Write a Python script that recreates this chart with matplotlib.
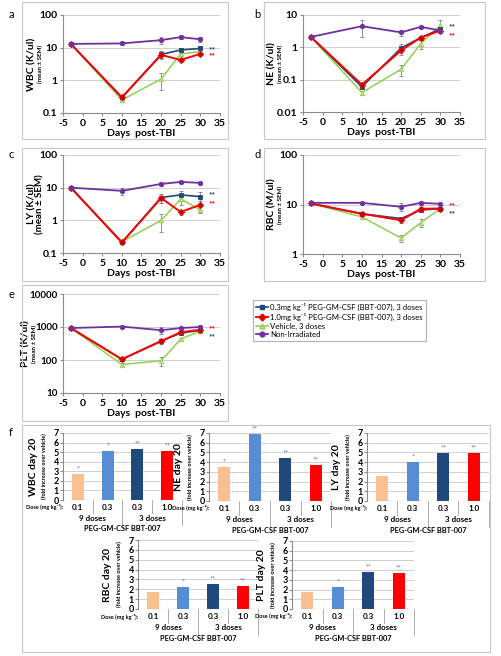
import numpy as np
import matplotlib
matplotlib.use("Agg")
import matplotlib.pyplot as plt
from matplotlib.lines import Line2D
from matplotlib.patches import Rectangle

plt.rcParams["font.family"] = ["Lato", "DejaVu Sans"]

W, H = 502, 656
fig = plt.figure(figsize=(W / 100, H / 100), dpi=100)

# ---- data: time courses (days post-TBI) ----
days = [-3, 10, 20, 25, 30]

wbc = {"low": [13, 0.3, 6.2, 8.5, 9.5], "high": [13, 0.3, 6.0, 4.2, 6.5],
       "veh": [13, 0.25, 1.1, 6.5, 7.5], "non": [13, 13.5, 17, 21, 18]}
wbc_err = {"low": [0, 0.05, 1.5, 1.5, 1.5], "high": [0, 0.05, 1.5, 0.5, 1.0],
           "veh": [0, 0.04, 0.6, 1.0, 1.0], "non": [0, 1.0, 4.0, 3.0, 3.0]}
ne = {"low": [2.1, 0.06, 0.95, 2.0, 3.7], "high": [2.1, 0.07, 0.8, 2.0, 3.3],
      "veh": [2.1, 0.04, 0.21, 1.3, 4.8], "non": [2.1, 4.5, 2.9, 4.3, 3.3]}
ne_err = {"low": [0, 0.01, 0.3, 0.3, 0.5], "high": [0, 0.01, 0.2, 0.3, 0.5],
          "veh": [0, 0.006, 0.08, 0.4, 2.0], "non": [0, 2.4, 0.6, 0.4, 0.5]}
ly = {"low": [10, 0.21, 5.0, 6.0, 5.3], "high": [10, 0.21, 4.8, 1.8, 3.0],
      "veh": [10, 0.22, 1.0, 4.5, 2.1], "non": [10, 8, 13, 15, 14]}
ly_err = {"low": [0, 0.02, 1.5, 2.0, 2.0], "high": [0, 0.02, 1.5, 0.3, 1.0],
          "veh": [0, 0.02, 0.55, 1.5, 0.4], "non": [0, 2.0, 1.5, 1.0, 1.0]}
rbc = {"low": [10.5, 6.5, 5.2, 7.7, 8.3], "high": [10.5, 6.5, 4.8, 8.2, 8.3],
       "veh": [10.5, 5.6, 2.1, 4.3, 8.3], "non": [10.8, 10.8, 9.0, 10.8, 10.3]}
rbc_err = {"low": [0, 0.5, 0.5, 0.5, 0.3], "high": [0, 0.5, 0.6, 0.5, 0.3],
           "veh": [0, 0.4, 0.35, 0.8, 0.5], "non": [0, 0.3, 1.5, 0.5, 0.5]}
plt_ = {"low": [930, 105, 380, 650, 800], "high": [930, 105, 370, 700, 820],
        "veh": [930, 73, 95, 430, 760], "non": [930, 1030, 800, 930, 1000]}
plt_err = {"low": [0, 10, 50, 80, 80], "high": [0, 10, 60, 80, 80],
           "veh": [0, 8, 30, 50, 80], "non": [0, 80, 200, 100, 120]}

# ---- data: day-20 fold increase over vehicle ----
doses = ["0.1", "0.3", "0.3", "1.0"]
wbc_fold = [2.75, 5.15, 5.3, 5.15]
ne_fold = [3.55, 6.85, 4.4, 3.7]
ly_fold = [2.6, 4.0, 4.9, 4.9]
rbc_fold = [1.7, 2.2, 2.5, 2.35]
plt_fold = [1.7, 2.3, 3.8, 3.75]
wbc_sig = ["*", "*", "**", "**"]
ne_sig = ["*", "**", "**", "**"]
ly_sig = ["", "*", "**", "**"]
rbc_sig = ["", "*", "**", "**"]
plt_sig = ["", "*", "**", "**"]

labels = {"low": "0.3mg kg\u207b\u00b9 PEG-GM-CSF (BBT-007), 3 doses",
          "high": "1.0mg kg\u207b\u00b9 PEG-GM-CSF (BBT-007), 3 doses",
          "veh": "Vehicle, 3 doses", "non": "Non-Irradiated"}
style = {"low": dict(color="#1F497D", marker="s", mfc="#1F497D", lw=1.2),
         "high": dict(color="#FF0000", marker="D", mfc="#C00000", lw=1.4),
         "veh": dict(color="#92D050", marker="^", mfc="#C3E39A", lw=1.1),
         "non": dict(color="#7030A0", marker="o", mfc="#7030A0", lw=1.3)}
bar_colors = ["#FAC090", "#558ED5", "#1F497D", "#FF0000"]
GRID = "#D0D0D0"
BOX = "#C8C8C8"


def px_axes(x0, y0, x1, y1):
    return fig.add_axes([x0 / W, 1 - y1 / H, (x1 - x0) / W, (y1 - y0) / H])


def px_box(x0, y0, x1, y1):
    fig.patches.append(Rectangle((x0 / W, 1 - y1 / H), (x1 - x0) / W, (y1 - y0) / H,
                                 transform=fig.transFigure, fill=False, ec=BOX, lw=0.8))


def px_text(x, y, s, **kw):
    fig.text(x / W, 1 - y / H, s, **kw)


def line_panel(rect, data, err, ylim, yticks, ylab, stars, lab_x=(-0.2, -0.145), ytick_fs=7.5):
    ax = px_axes(*rect)
    for k in ["veh", "low", "high", "non"]:
        st = style[k]
        ax.errorbar(days, data[k], yerr=err[k], color=st["color"], lw=st["lw"],
                    marker=st["marker"], ms=3.2, mfc=st["mfc"], mec=st["color"],
                    mew=0.6, ecolor="#808080", elinewidth=0.6, capsize=1.5, zorder=3)
    ax.set_yscale("log")
    ax.set_ylim(*ylim)
    ax.set_xlim(-5, 35)
    ax.set_yticks(yticks)
    ax.set_yticklabels([("%g" % t) for t in yticks], fontsize=ytick_fs, fontweight="bold")
    ax.yaxis.set_minor_locator(matplotlib.ticker.NullLocator())
    ax.set_xticks(range(-5, 40, 5))
    ax.set_xticklabels([str(t) for t in range(-5, 40, 5)], fontsize=7.5, fontweight="bold")
    ax.grid(axis="y", color=GRID, lw=0.7)
    for s in ["top", "right"]:
        ax.spines[s].set_visible(False)
    for s in ["left", "bottom"]:
        ax.spines[s].set_color("#8C8C8C")
    ax.tick_params(length=2, color="#8C8C8C", pad=2)
    ax.set_xlabel("Days  post-TBI", fontsize=7.5, fontweight="bold", labelpad=1)
    ax.text(lab_x[0], 0.5, ylab[0], transform=ax.transAxes, rotation=90, ha="center",
            va="center", fontsize=7.5, fontweight="bold")
    ax.text(lab_x[1], 0.5, ylab[1], transform=ax.transAxes, rotation=90, ha="center",
            va="center", fontsize=ylab[2], fontweight="bold")
    for (k, y) in stars:
        ax.text(33, y, "**", color=style[k]["color"], fontsize=6, fontweight="bold",
                ha="center", va="center")
    return ax


line_panel((63, 15, 220, 113), wbc, wbc_err, (0.1, 100), [0.1, 1, 10, 100],
           ("WBC (K/ul)", "(mean \u00b1 SEM)", 4.5), [("low", 9.0), ("high", 5.6)])
line_panel((303, 15, 460, 112), ne, ne_err, (0.01, 10), [0.01, 0.1, 1, 10],
           ("NE (K/ul)", "(mean \u00b1 SEM)", 4.5), [("low", 4.3), ("high", 2.3)])
line_panel((63, 155, 220, 253), ly, ly_err, (0.1, 100), [0.1, 1, 10, 100],
           ("LY (K/ul)", "(mean \u00b1 SEM)", 7), [("low", 6.0), ("high", 3.2)])
line_panel((303, 155, 460, 254), rbc, rbc_err, (1, 100), [1, 10, 100],
           ("RBC (M/ul)", "(mean \u00b1 SEM)", 4.5), [("high", 9.6), ("low", 6.4)])
line_panel((63, 294, 220, 393), plt_, plt_err, (10, 10000), [10, 100, 1000, 10000],
           ("PLT (K/ul)", "(mean \u00b1 SEM)", 4.5), [("high", 880), ("low", 500)],
           lab_x=(-0.235, -0.18), ytick_fs=7)

# panel boxes and letters
px_box(22, 2, 228, 139)
px_box(264, 2, 485, 139)
px_box(22, 148, 228, 281)
px_box(264, 148, 485, 281)
px_box(22, 285, 228, 421)
px_box(22, 425, 490, 652)
for x, y, s in [(11, 15, "a"), (257, 15, "b"), (11, 155, "c"), (258, 155, "d"),
                (11, 295, "e"), (11, 432, "f")]:
    px_text(x, y, s, fontsize=8, ha="center", va="center")

# legend
handles = [Line2D([], [], color=style[k]["color"], lw=style[k]["lw"], marker=style[k]["marker"],
                  ms=3.5, mfc=style[k]["mfc"], mec=style[k]["color"]) for k in ["low", "high", "veh", "non"]]
leg = fig.legend(handles, [labels[k] for k in ["low", "high", "veh", "non"]],
                 loc="upper left", bbox_to_anchor=(253 / W, 1 - 300 / H), fontsize=5.6,
                 frameon=True, fancybox=False, edgecolor="#A0A0A0", handlelength=1.5,
                 handletextpad=0.3, borderpad=0.4, labelspacing=0.2, borderaxespad=0)
leg.get_frame().set_linewidth(0.8)


def bar_panel(rect, vals, sig, name):
    ax = px_axes(*rect)
    x = np.arange(len(vals))
    ax.bar(x, vals, width=0.4, color=bar_colors, zorder=3)
    for xi, v, s in zip(x, vals, sig):
        ax.text(xi, v + 0.15, s, color="#4F6FA0", fontsize=5, ha="center", va="bottom")
    ax.set_xlim(-0.5, 3.5)
    ax.set_ylim(0, 7)
    ax.set_yticks(range(8))
    ax.set_yticklabels([str(i) for i in range(8)], fontsize=6.5, fontweight="bold")
    ax.set_xticks([])
    ax.grid(axis="y", color=GRID, lw=0.7)
    for s in ["top", "right", "bottom"]:
        ax.spines[s].set_visible(False)
    ax.spines["left"].set_color("#8C8C8C")
    ax.tick_params(axis="y", length=2, color="#8C8C8C", pad=1)
    ax.axhline(0, color="#8C8C8C", lw=0.8, zorder=4)
    tr = ax.get_xaxis_transform()
    for xi, d in zip(x, doses):
        ax.text(xi, -0.11, d, transform=tr, fontsize=5.8, fontweight="bold",
                ha="center", va="center")
    ax.text(-0.48, -0.11, "Dose (mg kg\u207b\u00b9):", transform=tr, fontsize=4.0,
            fontweight="bold", ha="right", va="center")
    for xs, y1 in [(0.5, -0.2), (1.5, -0.38), (2.5, -0.2), (3.5, -0.38)]:
        ax.plot([xs, xs], [0, y1], transform=tr, color="#A0A0A0", lw=0.6, clip_on=False)
    ax.text(0.5, -0.27, "9 doses", transform=tr, fontsize=5.8, fontweight="bold",
            ha="center", va="center")
    ax.text(2.5, -0.27, "3 doses", transform=tr, fontsize=5.8, fontweight="bold",
            ha="center", va="center")
    ax.text(1.5, -0.43, "PEG-GM-CSF BBT-007", transform=tr, fontsize=5.3,
            fontweight="bold", ha="center", va="center")
    ax.text(-0.25, 0.5, name, transform=ax.transAxes, rotation=90, ha="center",
            va="center", fontsize=7.5, fontweight="bold")
    ax.text(-0.155, 0.5, "(fold increase over vehicle)", transform=ax.transAxes,
            rotation=90, ha="center", va="center", fontsize=4, fontweight="bold")
    return ax


bar_panel((63, 433, 182, 500), wbc_fold, wbc_sig, "WBC day 20")
bar_panel((209, 433, 331, 501), ne_fold, ne_sig, "NE day 20")
bar_panel((367, 433, 489, 501), ly_fold, ly_sig, "LY day 20")
bar_panel((138, 540, 258, 609), rbc_fold, rbc_sig, "RBC day 20")
bar_panel((292, 541, 414, 609), plt_fold, plt_sig, "PLT day 20")

fig.savefig("out.png", dpi=100)
